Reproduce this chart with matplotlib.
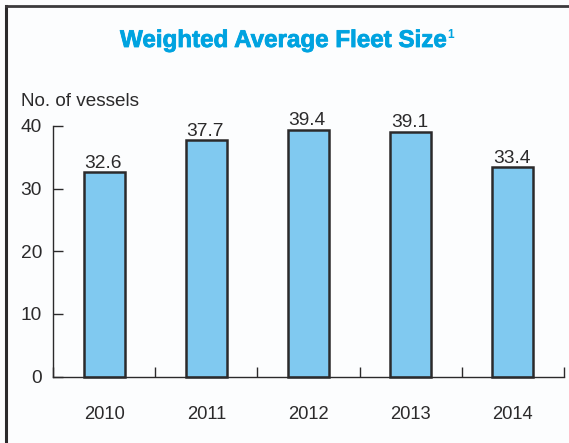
import matplotlib
matplotlib.use('Agg')
import matplotlib.pyplot as plt
import matplotlib.patheffects as pe
import numpy as np

years = ['2010', '2011', '2012', '2013', '2014']
vessels = [32.6, 37.7, 39.4, 39.1, 33.4]
y_ticks = [0, 10, 20, 30, 40]

W, H = 569, 443
DARK = '#2b2a2b'
TITLE_BLUE = '#00a3e0'

plt.rcParams['font.family'] = ['Liberation Sans', 'DejaVu Sans']

fig = plt.figure(figsize=(W / 100, H / 100), dpi=100, facecolor='#fcfdfe')

# page frame, only top and left are visible in the crop
fig.add_artist(plt.Line2D([5.5 / W, 5.5 / W], [0, 1 - 5.5 / H], color=DARK, lw=2.2))
fig.add_artist(plt.Line2D([5.5 / W, 1], [1 - 5.5 / H, 1 - 5.5 / H], color='#3c3a3c', lw=2))

ax = fig.add_axes([53 / W, (H - 376.5) / H, (564 - 53) / W, 250.5 / H])
ax.patch.set_alpha(0)

x = np.arange(len(years)) + 0.5
ax.bar(x, vessels, width=0.4, color='#80c9f0', edgecolor=DARK, linewidth=1.8, clip_on=False)

for xi, v in zip(x, vessels):
	ax.annotate(f'{v}', (xi, v), xytext=(-1, 0.5), textcoords='offset points',
		ha='center', va='bottom', fontsize=13.8, color=DARK)

ax.set_xlim(0, len(years))
ax.set_ylim(0, 40)

ax.set_yticks(y_ticks)
ax.set_xticks(np.arange(len(years) + 1))
ax.set_xticklabels([])
ax.set_xticks(x, minor=True)
ax.set_xticklabels(years, minor=True)

ax.tick_params(axis='y', direction='in', length=7, width=1, color=DARK,
	labelsize=13.8, labelcolor=DARK, pad=8)
ax.tick_params(axis='x', which='major', direction='in', length=7, width=1, color=DARK)
ax.tick_params(axis='x', which='minor', length=0, labelsize=13.2, labelcolor=DARK, pad=21)

for side in ['top', 'right']:
	ax.spines[side].set_visible(False)
for side in ['left', 'bottom']:
	ax.spines[side].set_color(DARK)
	ax.spines[side].set_linewidth(1)

title = fig.text(120 / W, 1 - 47 / H, 'Weighted Average Fleet Size', fontsize=17.4,
	fontweight='bold', color=TITLE_BLUE, ha='left', va='baseline')
title.set_path_effects([pe.withStroke(linewidth=0.6, foreground=TITLE_BLUE)])
fig.text(447.5 / W, 1 - 38 / H, '1', fontsize=8.5, fontweight='bold', color=TITLE_BLUE,
	ha='left', va='baseline')
fig.text(21 / W, 1 - 106 / H, 'No. of vessels', fontsize=13.6, color=DARK,
	ha='left', va='baseline')

fig.savefig('out.png', dpi=100)
